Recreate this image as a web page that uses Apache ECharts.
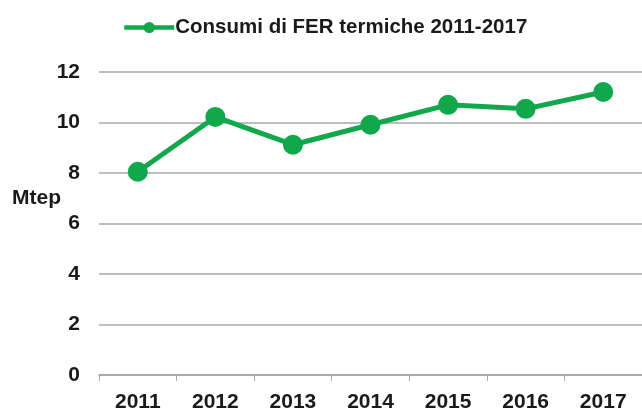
<!DOCTYPE html>
<html>
<head>
<meta charset="utf-8">
<script src="https://cdn.jsdelivr.net/npm/echarts@6/dist/echarts.min.js"></script>
<style>html,body{margin:0;padding:0;background:#fff;}#c{width:642px;height:413px;}</style>
</head>
<body>
<div id="c"></div>
<script>
const categories = ['2011','2012','2013','2014','2015','2016','2017'];
const seriesName = 'Consumi di FER termiche 2011-2017';
const values = [8.05, 10.22, 9.12, 9.91, 10.7, 10.54, 11.21];
const yTicks = [0, 2, 4, 6, 8, 10, 12];
const yUnit = 'Mtep';

const chart = echarts.init(document.getElementById('c'), null, {renderer: 'canvas'});
const font = 'Liberation Sans, Arial, sans-serif';
chart.setOption({
  animation: false,
  backgroundColor: '#ffffff',
  grid: {left: 99, top: 72, width: 546, bottom: 37, containLabel: false},
  legend: {
    left: 117, top: 12,
    itemWidth: 50, itemHeight: 14, itemGap: 6,
    lineStyle: {width: 4.5},
    textStyle: {fontFamily: font, fontWeight: 'bold', fontSize: 20.5, color: '#1a1a1a', padding: [0, 0, 0, -4]},
    data: [seriesName]
  },
  graphic: [{
    type: 'text', left: 12, top: 188,
    style: {text: yUnit, font: 'bold 21px Liberation Sans, Arial, sans-serif', fill: '#1a1a1a'}
  }],
  xAxis: {
    type: 'category', data: categories, boundaryGap: true,
    axisLine: {show: true, lineStyle: {color: '#a6a6a6', width: 1.5}},
    axisTick: {show: true, length: 6, lineStyle: {color: '#a6a6a6'}},
    axisLabel: {fontFamily: font, fontWeight: 'bold', fontSize: 21, color: '#1a1a1a', margin: 17}
  },
  yAxis: {
    type: 'value', min: yTicks[0], max: yTicks[yTicks.length - 1], interval: 2,
    axisLine: {show: false}, axisTick: {show: false},
    splitLine: {lineStyle: {color: '#a6a6a6', width: 1.5}},
    axisLabel: {fontFamily: font, fontWeight: 'bold', fontSize: 21, color: '#1a1a1a', margin: 19}
  },
  series: [{
    name: seriesName, type: 'line', data: values,
    symbol: 'circle', symbolSize: 20,
    lineStyle: {color: '#10a84a', width: 5},
    itemStyle: {color: '#10a84a'}
  }]
});
</script>
</body>
</html>
